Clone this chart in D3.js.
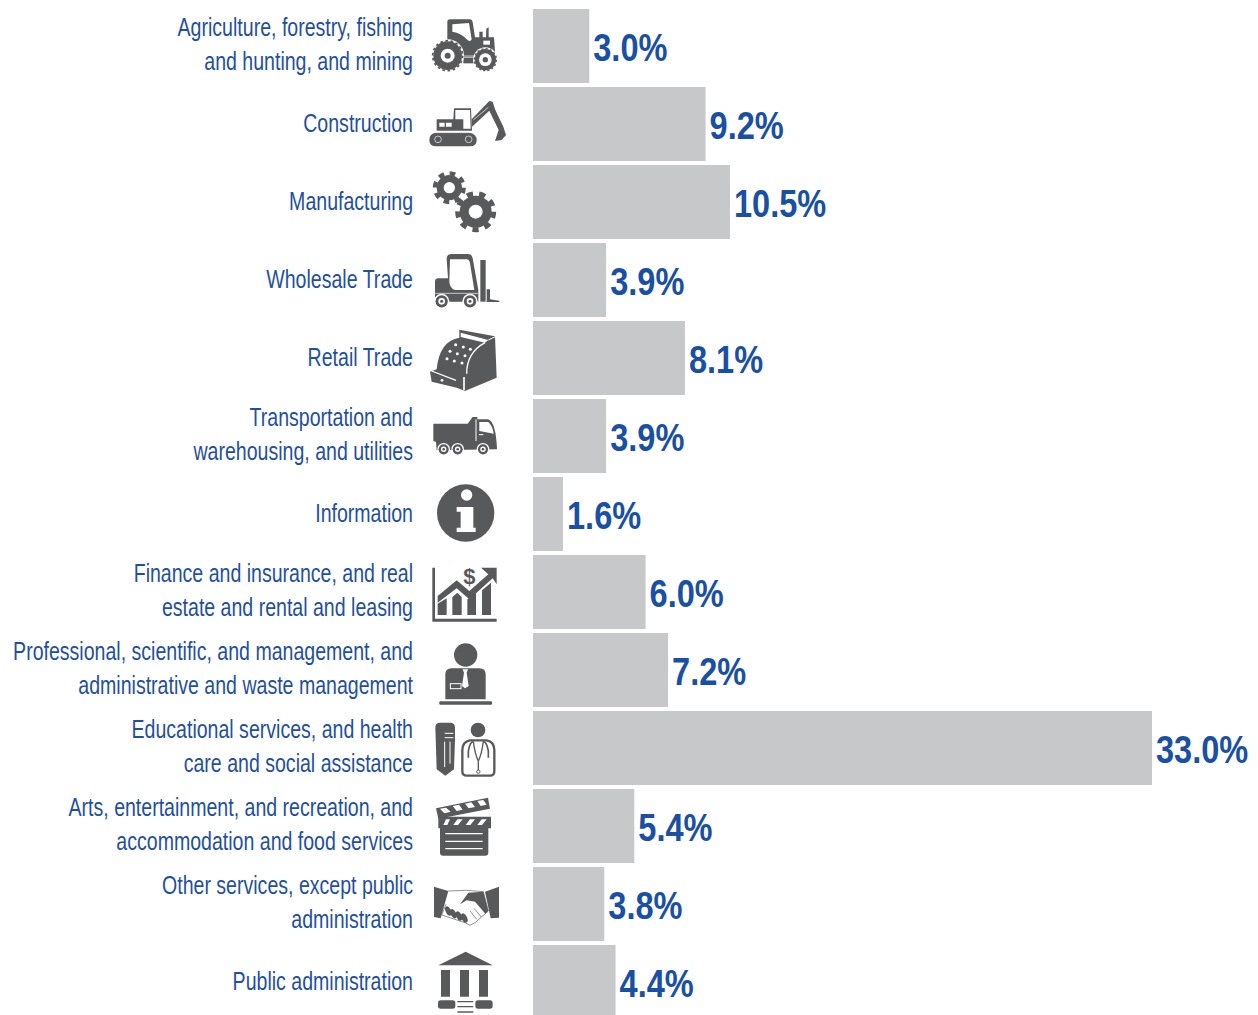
<!DOCTYPE html>
<html>
<head>
<meta charset="utf-8">
<script src="https://cdn.jsdelivr.net/npm/d3@7"></script>
<style>
  body { margin: 0; background: #fff; }
  svg { display: block; }
  text { font-family: "Liberation Sans Narrow", "Liberation Sans", sans-serif; }
  .cat-label { font-size: 26px; fill: #1f509f; }
  .val-label { font-size: 39px; font-weight: bold; fill: #1a50a3; }
</style>
</head>
<body>
<svg id="chart" width="1258" height="1015"></svg>
<script>
const categories = [
  'Agriculture, forestry, fishing\nand hunting, and mining',
  'Construction',
  'Manufacturing',
  'Wholesale Trade',
  'Retail Trade',
  'Transportation and\nwarehousing, and utilities',
  'Information',
  'Finance and insurance, and real\nestate and rental and leasing',
  'Professional, scientific, and management, and\nadministrative and waste management',
  'Educational services, and health\ncare and social assistance',
  'Arts, entertainment, and recreation, and\naccommodation and food services',
  'Other services, except public\nadministration',
  'Public administration'
];
const values = [3.0, 9.2, 10.5, 3.9, 8.1, 3.9, 1.6, 6.0, 7.2, 33.0, 5.4, 3.8, 4.4];
const iconNames = ['tractor', 'excavator', 'gears', 'forklift', 'register', 'truck', 'info', 'finance', 'person', 'education', 'clapper', 'handshake', 'bank'];

const dark = '#58595b';
const svg = d3.select('#chart');

const barLeft = 533, labelRight = 413;
const x = d3.scaleLinear().domain([0, 33]).range([0, 619]);
// step of 78px with a 4px gap, the last bar runs off the bottom of the page
const y = d3.scaleBand().domain(categories).range([9, 9 + 78 * 13 - 4]).paddingInner(4 / 78).paddingOuter(0);

// condensed look: the installed narrow font is still wider than the original
const catSqueeze = 0.752, valSqueeze = 0.835;

svg.append('g').selectAll('rect')
  .data(categories)
  .join('rect')
    .attr('x', barLeft)
    .attr('y', d => y(d))
    .attr('width', (d, i) => x(values[i]))
    .attr('height', y.bandwidth())
    .attr('fill', '#c7c8ca');

svg.append('g').selectAll('text')
  .data(categories)
  .join('text')
    .attr('class', 'val-label')
    .attr('transform', (d, i) => `translate(${barLeft + x(values[i]) + 4},${y(d) + y.bandwidth() / 2 + 14.5}) scale(${valSqueeze},1)`)
    .text((d, i) => values[i].toFixed(1) + '%');

const labels = svg.append('g').selectAll('g')
  .data(categories)
  .join('g')
    .attr('transform', d => `translate(${labelRight},${y(d) + y.bandwidth() / 2}) scale(${catSqueeze},1)`);

labels.each(function(d) {
  const lines = d.split('\n');
  d3.select(this).selectAll('text')
    .data(lines)
    .join('text')
      .attr('class', 'cat-label')
      .attr('text-anchor', 'end')
      .attr('y', (l, i) => lines.length > 1 ? -10 + i * 34.5 : 8)
      .text(l => l);
});

// helpers for the icons, all sizes in units of a 3x crop
function p(g, d, fill) { return g.append('path').attr('d', d).attr('fill', fill || dark); }
function c(g, cx, cy, r, fill) { return g.append('circle').attr('cx', cx).attr('cy', cy).attr('r', r).attr('fill', fill || dark); }
function line(g, d, w, stroke) {
  return g.append('path').attr('d', d).attr('fill', 'none').attr('stroke', stroke || '#fff').attr('stroke-width', w);
}
function teeth(g, cx, cy, r, w, n) {
  g.append('circle').attr('cx', cx).attr('cy', cy).attr('r', r).attr('fill', 'none')
    .attr('stroke', dark).attr('stroke-width', w)
    .attr('pathLength', n * 2).attr('stroke-dasharray', '1 1');
}
function wheel(g, cx, cy, r) {
  c(g, cx, cy, r, '#fff');
  c(g, cx, cy, r * 0.8);
  c(g, cx, cy, r * 0.43, '#fff');
  c(g, cx, cy, r * 0.2);
}

const icons = {
  tractor: {top: 27, draw(g) {
    p(g, 'M82 125L82 66Q82 58 90 58L150 58Q157 58 158 66L165 112L178 112L178 95L188 95L188 112L198 112L199 86L206 82L206 112L222 112L226 170L130 170L110 125Z');
    p(g, 'M97 73L147 69L155 118Q150 128 140 118Q125 100 97 95Z', '#fff');
    p(g, 'M190 122H210V134H190Z', '#fff');
    p(g, 'M130 168H162V190H130Z');
    line(g, 'M130 168H162M130 172H162', 2);
    c(g, 83, 167, 49, '#fff'); c(g, 83, 167, 43);
    teeth(g, 83, 167, 45, 5, 18);
    c(g, 83, 167, 21, '#fff'); c(g, 83, 167, 9);
    c(g, 196, 179, 37, '#fff'); c(g, 196, 179, 32);
    teeth(g, 196, 179, 33, 4, 16);
    c(g, 196, 179, 19, '#fff'); c(g, 196, 179, 8);
  }},
  excavator: {top: 261, draw(g) {
    p(g, 'M50 358H100L102 325H153L156 392H50Z');
    p(g, 'M106 330H150L152 386H130L130 358H106Z', '#fff');
    p(g, 'M58 368H74V380H58ZM78 368H95V380H78Z', '#fff');
    p(g, 'M155 358L208 303L218 305L226 330L250 380L258 405L245 420L225 423L236 390L208 332L156 380Z');
    line(g, 'M160 360L205 322', 2);
    p(g, 'M48 398H150Q170 403 170 420Q170 439 150 439H48Q28 439 28 420Q28 400 48 398Z');
    line(g, 'M36 398H162', 2).attr('stroke-dasharray', '4 3');
    g.append('circle').attr('cx', 54).attr('cy', 418).attr('r', 10).attr('fill', 'none').attr('stroke', '#fff').attr('stroke-width', 2);
    g.append('circle').attr('cx', 146).attr('cy', 418).attr('r', 10).attr('fill', 'none').attr('stroke', '#fff').attr('stroke-width', 2);
  }},
  gears: {top: 495, draw(g) {
    c(g, 88, 563, 38); teeth(g, 88, 563, 43, 13, 8); c(g, 88, 563, 17, '#fff');
    c(g, 167, 635, 48); teeth(g, 167, 635, 54, 15, 9); c(g, 167, 635, 21, '#fff');
  }},
  forklift: {top: 9, draw(g) {
    p(g, 'M45 125Q45 115 55 115L84 115L80 56Q80 42 95 42L145 42Q155 42 158 55L175 150L175 185L45 185Z');
    p(g, 'M90 58L140 58Q148 58 150 70L163 150L105 150Q90 145 88 125Z', '#fff');
    p(g, 'M181 60H197V185H181Z');
    p(g, 'M200 148H210V178L238 182V186H200Z');
    line(g, 'M45 160H175', 2);
    wheel(g, 65, 184, 23); wheel(g, 150, 184, 23);
  }},
  register: {top: 240, draw(g) {
    p(g, 'M118 266L225 286L230 410L135 450L110 440L35 422L30 392L50 385Q58 300 118 290Z');
    p(g, 'M122 275L205 297L195 305L122 288Z', '#fff');
    line(g, 'M205 297L226 287', 3);
    [[107, 311], [130, 318], [151, 325], [90, 331], [112, 338], [135, 344], [81, 353], [103, 360], [126, 366]]
      .forEach(k => c(g, k[0], k[1], 4.5, '#fff'));
    line(g, 'M140 398Q140 335 195 305', 4);
    line(g, 'M35 390L108 418', 4);
    line(g, 'M132 408V448', 5);
    c(g, 66, 418, 4, '#fff');
  }},
  truck: {top: 474, draw(g) {
    p(g, 'M40 548H143L158 528H172V535H205Q228 545 231 625L50 628L48 603L40 600Z');
    p(g, 'M178 543H205Q218 555 221 578L178 570Z', '#fff');
    line(g, 'M168 535V600', 3);
    line(g, 'M177 581H190', 3);
    wheel(g, 71, 625, 19); wheel(g, 113, 625, 19); wheel(g, 189, 625, 19);
  }},
  info: {top: 18, draw(g) {
    c(g, 137, 126, 86);
    c(g, 140, 72, 17, '#fff');
    p(g, 'M110 108H160V170H167V183H110V170H122V122H110Z', '#fff');
  }},
  finance: {top: 252, draw(g) {
    p(g, 'M37 290H45V443H230V452H37Z');
    p(g, 'M53 432V398L80 382V432Z');
    p(g, 'M97 432V378L112 365L125 378V432Z');
    p(g, 'M142 432V385L168 365V432Z');
    p(g, 'M186 432V358L213 335V432Z');
    p(g, 'M53 375L110 328L148 360L205 310L183 290H230V340L218 322L148 385L110 352L53 395Z');
    g.append('text').attr('x', 148).attr('y', 340).attr('text-anchor', 'middle')
      .attr('font-size', 66).attr('font-weight', 'bold').attr('fill', dark).text('$');
  }},
  person: {top: 486, draw(g) {
    c(g, 137, 552, 35);
    p(g, 'M76 685V610Q76 592 95 592H178Q197 592 197 610V685Z');
    p(g, 'M128 595H144L140 605L146 645L135 652L126 645L132 605Z', '#fff');
    g.append('rect').attr('x', 91).attr('y', 638).attr('width', 32).attr('height', 15)
      .attr('fill', 'none').attr('stroke', '#fff').attr('stroke-width', 3);
    g.append('rect').attr('x', 58).attr('y', 691).attr('width', 158).attr('height', 10).attr('rx', 3).attr('fill', dark);
  }},
  education: {top: 720, draw(g) {
    p(g, 'M46 770Q46 755 60 755H90Q105 755 105 770V805L102 895L76 914L50 895Z');
    line(g, 'M74 787H100M74 800H100', 3);
    line(g, 'M74 812V888M90 812V878', 3);
    c(g, 174, 777, 22);
    line(g, 'M127 900V838Q127 812 150 808H200Q223 812 223 838V900Q223 914 210 914H140Q127 914 127 900Z', 7, dark);
    line(g, 'M145 860V840Q150 812 160 812M205 860V840Q200 812 190 812', 5, dark);
    line(g, 'M160 812Q165 850 175 870M190 812Q185 850 175 870M175 870V898', 4, dark);
    g.append('circle').attr('cx', 175).attr('cy', 902).attr('r', 5).attr('fill', '#fff').attr('stroke', dark).attr('stroke-width', 3);
  }},
  clapper: {top: 54, draw(g) {
    p(g, 'M48 112L204 80L210 113L55 143Z');
    p(g, 'M60 113L78 110L92 122L73 127ZM98 105L117 101L128 116L110 120ZM135 98L154 94L165 108L146 112ZM172 90L190 87L200 101L182 105Z', '#fff');
    p(g, 'M55 137H213V172H205V245Q205 254 195 254H70Q60 254 60 245V172H55Z');
    p(g, 'M78 145H90L82 162H70ZM112 145H128L114 162H100ZM150 145H165L151 162H137ZM185 145H200L186 162H172Z', '#fff');
    line(g, 'M76 188H188M76 211H188M76 233H188', 4);
  }},
  handshake: {top: 288, draw(g) {
    p(g, 'M42 347L85 360L62 442L42 438Z');
    p(g, 'M195 362L237 347V440L212 442Z');
    line(g, 'M85 360L140 358M78 400L65 432L135 455L150 463L165 455L205 420L190 362L140 358', 2, dark);
    p(g, 'M120 400L145 365L190 362L205 420L196 428L165 392L140 388Z');
    line(g, 'M150 420L170 445M162 412L184 438', 2, dark);
    [[85, 420], [100, 428], [117, 435], [133, 441]].forEach(k => {
      g.append('ellipse').attr('cx', k[0]).attr('cy', k[1]).attr('rx', 8).attr('ry', 15)
        .attr('transform', `rotate(-25 ${k[0]} ${k[1]})`).attr('fill', dark);
    });
  }},
  bank: {top: 525, draw(g) {
    p(g, 'M137 545L218 586H55Z');
    p(g, 'M63 600H90V680H63ZM120 600H147V680H120ZM177 600H204V680H177Z');
    g.append('rect').attr('x', 54).attr('y', 691).attr('width', 52).attr('height', 25).attr('rx', 8).attr('fill', dark);
    g.append('rect').attr('x', 166).attr('y', 691).attr('width', 52).attr('height', 25).attr('rx', 8).attr('fill', dark);
    line(g, 'M112 695H160M112 710H160M112 726H160', 4, dark);
  }}
};

svg.append('g').selectAll('g')
  .data(categories)
  .join('g')
    .attr('transform', (d, i) => `translate(420,${y(d)}) scale(${1 / 3}) translate(0,${-icons[iconNames[i]].top})`)
    .each(function(d, i) { icons[iconNames[i]].draw(d3.select(this)); });
</script>
</body>
</html>
